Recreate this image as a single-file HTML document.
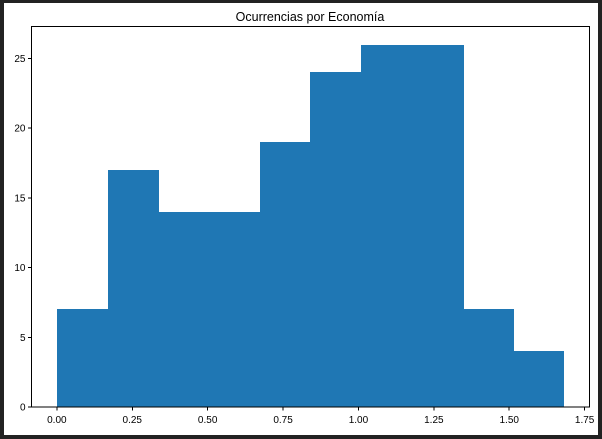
<!DOCTYPE html>
<html><head><meta charset="utf-8"><style>
html,body{margin:0;padding:0;background:#222;}
svg{display:block;font-family:"Liberation Sans","DejaVu Sans",sans-serif;}
</style></head><body>
<svg width="602" height="439" id="chart">
<rect x="4" y="3" width="594" height="432" fill="#fff"/>
<text x="310" y="21" text-anchor="middle" font-size="12.5" fill="#000">Ocurrencias por Economía</text>
<g id="bars" shape-rendering="crispEdges"></g><g id="axes" shape-rendering="crispEdges"></g>
</svg>
<script>
const binEdges = [0, 0.1682, 0.3364, 0.5046, 0.6728, 0.841, 1.0092, 1.1774, 1.3456, 1.5138, 1.682];
const counts = [7, 17, 14, 14, 19, 24, 26, 26, 7, 4];
const xTicks = [0, 0.25, 0.5, 0.75, 1.0, 1.25, 1.5, 1.75];
const xTickLabels = ["0.00","0.25","0.50","0.75","1.00","1.25","1.50","1.75"];
const yTicks = [0, 5, 10, 15, 20, 25];
const L=31.5,R=589.5,T=26.5,B=407;
const xMin=-0.0841,xMax=1.7661,yMax=27.3;
const X=v=>L+(v-xMin)/(xMax-xMin)*(R-L);
const Y=v=>B-v/yMax*(B-T);
const NS="http://www.w3.org/2000/svg";
function mk(t,a,p){const e=document.createElementNS(NS,t);for(const k in a)e.setAttribute(k,a[k]);p.appendChild(e);return e;}
const bars=document.getElementById('bars'),axes=document.getElementById('axes');
counts.forEach((c,i)=>{
 const x0=Math.round(X(binEdges[i])),x1=Math.round(X(binEdges[i+1]));
 const r=mk('rect',{x:x0,y:Math.round(Y(c)),width:x1-x0+ (i<counts.length-1?1:0),height:B-Math.round(Y(c)),fill:'#1f77b4'},bars);
 
 
});
xTicks.forEach((v,i)=>{
 const x=X(v);
 const l=mk('line',{x1:x,x2:x,y1:B,y2:B+3.5,stroke:'#000','stroke-width':1},axes);
 
 
 const t=mk('text',{x:x,y:B+16,'text-anchor':'middle','font-size':10,fill:'#000'},axes);
 t.textContent=xTickLabels[i];
 
 
});
yTicks.forEach(v=>{
 const y=Y(v);
 const l=mk('line',{x1:L-3.5,x2:L,y1:y,y2:y,stroke:'#000','stroke-width':1},axes);
 
 
 const t=mk('text',{x:L-6,y:y+3.5,'text-anchor':'end','font-size':10,fill:'#000'},axes);
 t.textContent=String(v);
 
 
});
const f=mk('rect',{x:L,y:T,width:R-L,height:B-T,fill:'none',stroke:'#000','stroke-width':1},axes);


</script>
</body></html>
